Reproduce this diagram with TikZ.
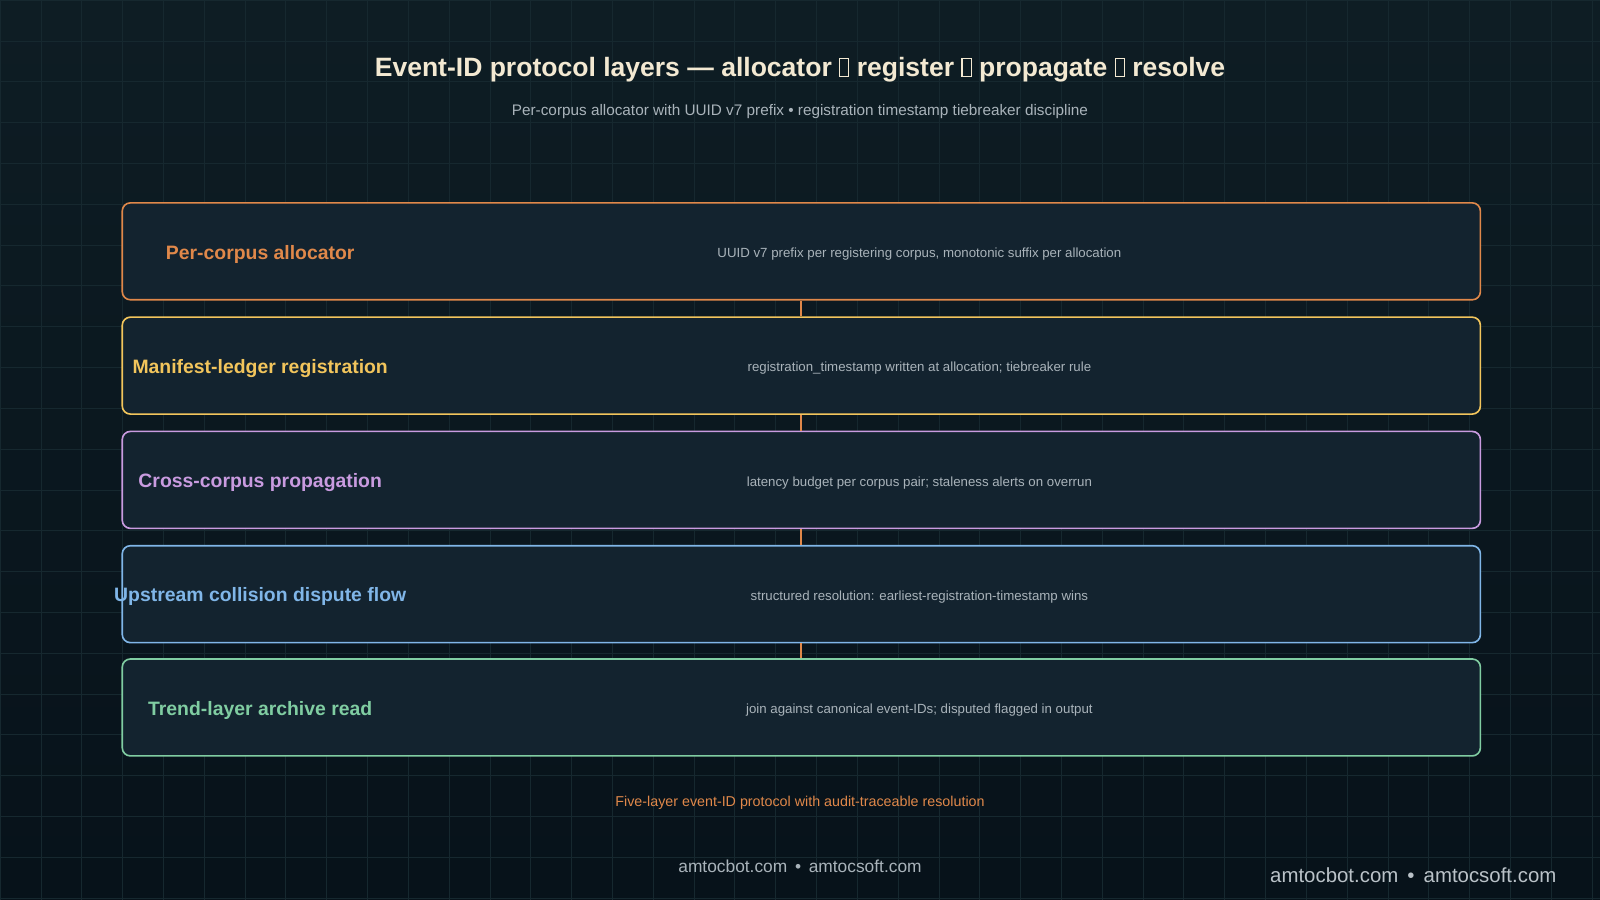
\documentclass[tikz,border=0pt]{standalone}
\usepackage{fontspec}
\setmainfont{Liberation Sans}
\begin{document}
\begin{tikzpicture}[x=1pt,y=-1pt,
  lay/.style={draw=#1,line width=1.6pt,rounded corners=8pt,fill=boxbg,minimum width=1331pt,minimum height=95pt,anchor=north west},
  lbl/.style={text=#1,font=\bfseries\fontsize{19}{22}\selectfont},
  desc/.style={text=desccol,font=\fontsize{13}{15}\selectfont},
  conn/.style={draw=corange,line width=1.2pt}]
\definecolor{bg}{HTML}{0E1D24}
\definecolor{bgd}{HTML}{07121A}
\definecolor{boxbg}{HTML}{13232F}
\definecolor{corange}{HTML}{E0884A}
\definecolor{cyellow}{HTML}{F2C55C}
\definecolor{cpurple}{HTML}{C99BE0}
\definecolor{cblue}{HTML}{80B6E8}
\definecolor{cgreen}{HTML}{80CDA2}
\definecolor{desccol}{HTML}{A9B3BA}
\definecolor{titlecol}{HTML}{F3E9D2}
\definecolor{gridc}{HTML}{16282F}
\useasboundingbox (0,0) rectangle (1568,882);
\shade[top color=bg,bottom color=bgd] (0,0) rectangle (1568,882);
\foreach \x in {0,40,...,1560} \draw[gridc,line width=0.5pt] (\x,0)--(\x,882);
\foreach \y in {0,40,...,880} \draw[gridc,line width=0.5pt] (0,\y)--(1568,\y);
\newcommand{\tofu}{\tikz[baseline=0pt,x=1pt,y=1pt]\draw[titlecol,line width=1pt](0,0) rectangle (9,17);}
\node[text=titlecol,font=\bfseries\fontsize{26}{30}\selectfont] (title) at (784,68) {Event-ID protocol layers — allocator \tofu{} register \tofu{} propagate \tofu{} resolve};
\node[text=desccol,font=\fontsize{15}{18}\selectfont] (sub) at (784,109) {Per-corpus allocator with UUID v7 prefix • registration timestamp tiebreaker discipline};
\node[lay=corange] (b1) at (119,198) {};
\node[lay=cyellow] (b2) at (119,310) {};
\node[lay=cpurple] (b3) at (119,422) {};
\node[lay=cblue] (b4) at (119,534) {};
\node[lay=cgreen] (b5) at (119,645) {};
\foreach \a/\b in {b1/b2,b2/b3,b3/b4,b4/b5}
  \draw[conn] (\a.south -| 785,0) -- (\b.north -| 785,0);
\node[lbl=corange] (l1) at (255,249) {Per-corpus allocator};
\node[lbl=cyellow] (l2) at (255,361) {Manifest-ledger registration};
\node[lbl=cpurple] (l3) at (255,473) {Cross-corpus propagation};
\node[lbl=cblue] (l4) at (255,585) {Upstream collision dispute flow};
\node[lbl=cgreen] (l5) at (255,696) {Trend-layer archive read};
\node[desc] (d1) at (901,249) {UUID v7 prefix per registering corpus, monotonic suffix per allocation};
\node[desc] (d2) at (901,361) {registration\_timestamp written at allocation; tiebreaker rule};
\node[desc] (d3) at (901,473) {latency budget per corpus pair; staleness alerts on overrun};
\node[desc] (d4) at (901,585) {structured resolution: earliest-registration-timestamp wins};
\node[desc] (d5) at (901,696) {join against canonical event-IDs; disputed flagged in output};
\node[text=corange,font=\fontsize{14}{17}\selectfont] (cap) at (784,787) {Five-layer event-ID protocol with audit-traceable resolution};
\node[text=desccol,font=\fontsize{17}{20}\selectfont] (f1) at (784,849) {amtocbot.com \,•\, amtocsoft.com};
\node[text=desccol!80!white,font=\fontsize{20}{24}\selectfont] (f2) at (1385,858) {amtocbot.com \,•\, amtocsoft.com};
\end{tikzpicture}
\end{document}
